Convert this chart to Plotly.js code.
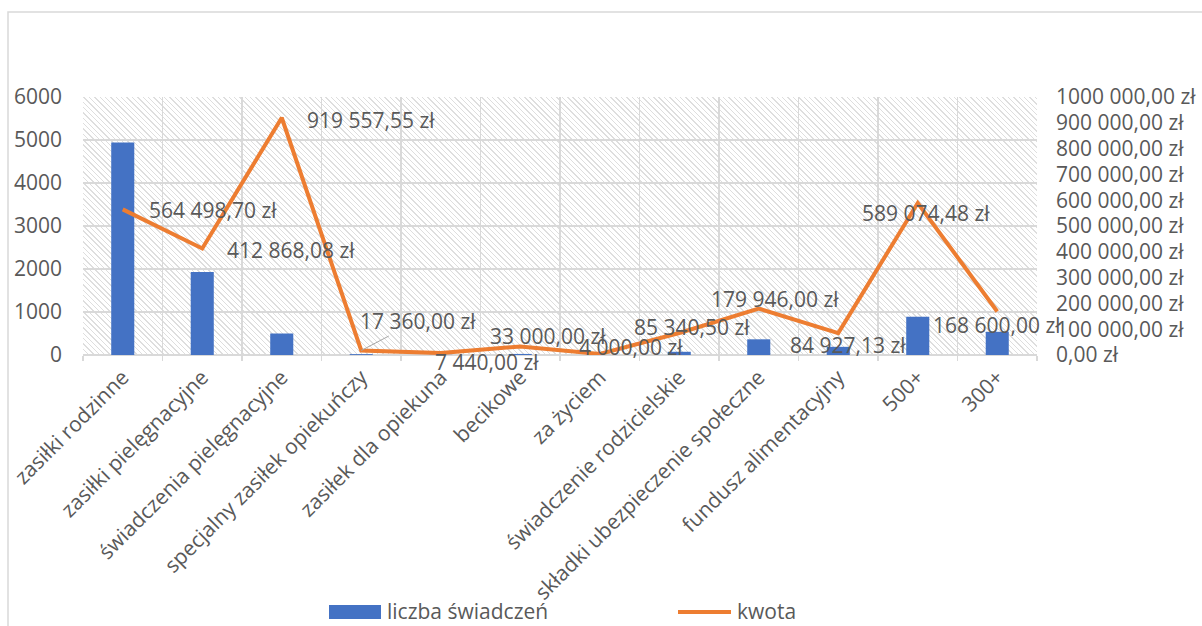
<!DOCTYPE html>
<html>
<head>
<meta charset="utf-8">
<script src="https://cdn.plot.ly/plotly-3.0.1.min.js"></script>
<style>
  html, body { margin: 0; padding: 0; background: #ffffff; }
  #wrap { position: relative; width: 1202px; height: 626px; overflow: hidden; }
  #hatch { position: absolute; left: 83px; top: 97px; width: 954px; height: 258px;
           background: repeating-linear-gradient(45deg, #dedede 0px, #dedede 1px, #ffffff 1px, #ffffff 3.8px); }
  #chart { position: absolute; left: 0; top: 0; width: 1202px; height: 626px; }
</style>
</head>
<body>
<div id="wrap">
  <div id="hatch"></div>
  <div id="chart"></div>
</div>
<script>
// ---- data ----
const categories = [
  "zasiłki rodzinne", "zasiłki pielęgnacyjne", "świadczenia pielęgnacyjne",
  "specjalny zasiłek opiekuńczy", "zasiłek dla opiekuna", "becikowe", "za życiem",
  "świadczenie rodzicielskie", "składki ubezpieczenie społeczne",
  "fundusz alimentacyjny", "500+", "300+"
];
const liczbaSwiadczen = [4940, 1930, 500, 20, 5, 25, 2, 75, 365, 190, 890, 540];
const kwota = [564498.70, 412868.08, 919557.55, 17360.00, 7440.00, 33000.00,
               4000.00, 85340.50, 179946.00, 84927.13, 589074.48, 168600.00];
const leftTicks = [0, 1000, 2000, 3000, 4000, 5000, 6000];
const rightTickVals = [0, 100000, 200000, 300000, 400000, 500000, 600000, 700000, 800000, 900000, 1000000];
const rightTickText = ["0,00 zł", "100 000,00 zł", "200 000,00 zł", "300 000,00 zł", "400 000,00 zł",
  "500 000,00 zł", "600 000,00 zł", "700 000,00 zł", "800 000,00 zł", "900 000,00 zł", "1000 000,00 zł"];
const seriesNames = ["liczba świadczeń", "kwota"];

// ---- label placement (styling: pixel offsets of each data label from its point) ----
const labelShift = [
  [24, 1], [23, 2], [23, 2], [0, -30], [-8, 9], [-32, -10],
  [-23, -7], [-47, -6], [-50, -10], [-50, 12], [-58, 10], [-66, 13]
];

function fmtPLN(v) {
  const parts = v.toFixed(2).split(".");
  const intPart = parts[0].replace(/\B(?=(\d{3})+(?!\d))/g, " ");
  return intPart + "," + parts[1] + " zł";
}

const FONT = "Open Sans, Noto Sans, sans-serif";
const FS = 21;
const TXT = "#595959";
const GRID = "#d9d9d9";
const BLUE = "#4472C4";
const ORANGE = "#ED7D31";

// pixel -> paper helpers (plot area is x 83..1037, y 97..355)
const PX = px => (px - 83) / 954;
const PY = py => (355 - py) / 258;

const traces = [
  {
    type: "bar", name: seriesNames[0], x: categories, y: liczbaSwiadczen,
    marker: { color: BLUE }, yaxis: "y"
  },
  {
    type: "scatter", mode: "lines", name: seriesNames[1], x: categories, y: kwota,
    line: { color: ORANGE, width: 4 }, yaxis: "y2"
  }
];

const annotations = kwota.map((v, i) => {
  const [dx, dy] = labelShift[i];
  const base = {
    x: categories[i], y: v, xref: "x", yref: "y2",
    text: fmtPLN(v), font: { family: FONT, size: FS, color: TXT }
  };
  if (i === 3) {
    return Object.assign(base, {
      showarrow: true, arrowhead: 0, arrowwidth: 1, arrowcolor: "#a6a6a6",
      ax: 57, ay: -30, standoff: 0, startstandoff: 0
    });
  }
  return Object.assign(base, {
    showarrow: false, xanchor: "left", yanchor: "middle", xshift: dx, yshift: -dy
  });
});

// custom legend texts
annotations.push(
  { xref: "paper", yref: "paper", x: PX(385), y: PY(611), xanchor: "left", yanchor: "middle",
    text: seriesNames[0], showarrow: false, font: { family: FONT, size: FS, color: TXT } },
  { xref: "paper", yref: "paper", x: PX(735), y: PY(611), xanchor: "left", yanchor: "middle",
    text: seriesNames[1], showarrow: false, font: { family: FONT, size: FS, color: TXT } }
);

const layout = {
  width: 1202, height: 626,
  margin: { l: 83, r: 165, t: 97, b: 271 },
  paper_bgcolor: "rgba(0,0,0,0)", plot_bgcolor: "rgba(0,0,0,0)",
  font: { family: FONT, size: FS, color: TXT },
  bargap: 0.71,
  showlegend: false,
  xaxis: {
    type: "category", range: [-0.5, categories.length - 0.5], autorange: false,
    tickson: "boundaries", showgrid: true, gridcolor: GRID, gridwidth: 1.5,
    ticks: "outside", ticklen: 5, tickcolor: GRID, tickwidth: 1.5, ticklabelstandoff: 5,
    tickangle: -45, tickfont: { family: FONT, size: FS, color: TXT },
    showline: false, zeroline: false, fixedrange: true, automargin: false
  },
  yaxis: {
    range: [0, 6000], autorange: false, tickvals: leftTicks, ticktext: leftTicks.map(String),
    showgrid: true, gridcolor: GRID, gridwidth: 1.5,
    zeroline: true, zerolinecolor: GRID, zerolinewidth: 1.5,
    ticks: "", ticklabelstandoff: 20,
    tickfont: { family: FONT, size: FS, color: TXT }, fixedrange: true, automargin: false
  },
  yaxis2: {
    overlaying: "y", side: "right", range: [0, 1000000], autorange: false,
    tickvals: rightTickVals, ticktext: rightTickText,
    showgrid: false, zeroline: false, ticks: "", ticklabelstandoff: 18,
    tickfont: { family: FONT, size: FS, color: TXT }, fixedrange: true, automargin: false
  },
  annotations: annotations,
  shapes: [
    { type: "rect", xref: "paper", yref: "paper",
      x0: PX(8), x1: PX(1215), y0: PY(640), y1: PY(12),
      line: { color: GRID, width: 1.5 }, fillcolor: "rgba(0,0,0,0)", layer: "below" },
    // legend symbols
    { type: "rect", xref: "paper", yref: "paper",
      x0: PX(329), x1: PX(381), y0: PY(619), y1: PY(605),
      line: { width: 0 }, fillcolor: BLUE },
    { type: "line", xref: "paper", yref: "paper",
      x0: PX(678), x1: PX(731), y0: PY(612), y1: PY(612),
      line: { color: ORANGE, width: 4 } }
  ]
};

Plotly.newPlot("chart", traces, layout, { displayModeBar: false, staticPlot: true });
</script>
</body>
</html>
